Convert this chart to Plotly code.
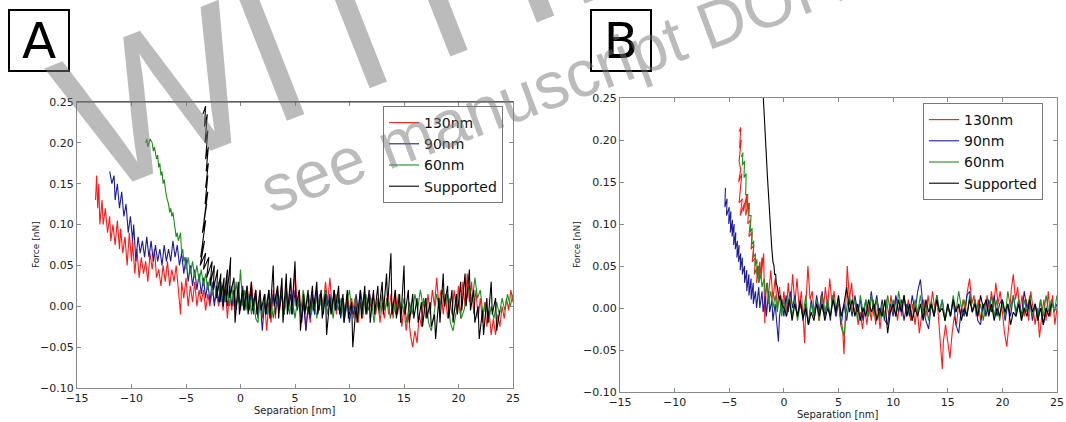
import plotly.graph_objects as go

# ---------------- Panel A data ----------------
a_red_x = [-13.3,-13.2,-13.1,-13.0,-12.9,-12.7,-12.6,-12.4,-12.2,-12.0,-11.9,-11.7,-11.5,-11.3,-11.1,-11.0,-10.8,-10.6,-10.4,-10.2,
           -10.0,-9.9,-9.7,-9.5,-9.3,-9.1,-8.9,-8.7,-8.5,-8.3,-8.1,-7.9,-7.7,-7.5,-7.3,-7.1,-6.9,-6.7,-6.5,-6.3,
           -6.1,-5.9,-5.7,-5.5,-5.4,-5.2,-5.0,-4.8,-4.6,-4.4,-4.2,-4.0,-3.8,-3.6,-3.4,-3.2,-3.0,-2.8,-2.6,-2.4,
           -2.2,-2.0,-1.8,-1.6,-1.4,-1.2,-1.0,-0.8,-0.6,-0.4,-0.2,0.0,0.2,0.4,0.6,0.8,1.0,1.2,1.4,1.6,
           1.8,2.0,2.2,2.4,2.6,2.8,3.0,3.2,3.4,3.6,3.8,4.0,4.2,4.4,4.6,4.8,5.0,5.2,5.4,5.6,
           5.8,6.0,6.2,6.4,6.6,6.8,7.0,7.2,7.4,7.6,7.8,8.0,8.2,8.4,8.6,8.8,9.0,9.2,9.4,9.6,
           9.8,10.0,10.2,10.4,10.6,10.8,11.0,11.2,11.4,11.6,11.8,12.0,12.2,12.4,12.6,12.8,13.0,13.2,13.4,13.6,
           13.8,14.0,14.2,14.4,14.6,14.8,15.0,15.2,15.4,15.6,15.8,16.0,16.2,16.4,16.6,16.8,17.0,17.2,17.4,17.6,
           17.8,18.0,18.2,18.4,18.6,18.8,19.0,19.2,19.4,19.6,19.8,20.0,20.2,20.4,20.6,20.8,21.0,21.2,21.4,21.6,
           21.8,22.0,22.2,22.4,22.6,22.8,23.0,23.2,23.4,23.6,23.8,24.0,24.2,24.4,24.6,24.8,25.0]
a_red_y = [0.13,0.16,0.12,0.15,0.10,0.13,0.10,0.12,0.09,0.11,0.08,0.10,0.075,0.105,0.07,0.095,0.065,0.085,0.05,0.09,
           0.055,0.08,0.04,0.07,0.035,0.06,0.04,0.055,0.03,0.065,0.045,0.07,0.035,0.045,0.025,0.05,0.03,0.055,0.025,0.045,
           0.03,0.05,0.02,-0.01,0.03,0.01,0.035,0.0,0.025,0.005,0.03,0.0,0.02,0.005,0.02,-0.005,0.015,0.0,0.02,0.005,
           0.015,0.0,0.02,-0.005,0.025,-0.015,0.02,-0.005,0.02,0.0,0.015,-0.005,0.02,0.0,0.025,0.005,0.03,0.0,0.02,-0.01,
           0.015,-0.015,0.01,-0.03,0.005,-0.02,0.02,-0.015,0.025,-0.005,0.02,-0.01,0.025,0.0,0.03,0.005,0.045,0.0,0.02,-0.02,
           0.01,-0.03,0.0,-0.02,0.015,-0.01,0.02,-0.005,0.015,0.0,0.03,0.005,0.035,0.0,0.02,-0.01,0.015,-0.01,0.01,-0.01,
           0.015,-0.005,0.01,-0.015,0.01,-0.02,0.005,-0.015,0.015,0.0,0.02,-0.005,0.015,-0.01,0.01,-0.02,0.005,-0.015,0.01,-0.01,
           0.015,-0.015,0.02,-0.01,0.005,-0.025,0.0,-0.03,-0.01,-0.035,-0.05,-0.03,-0.045,-0.01,-0.025,0.01,-0.015,0.015,-0.01,0.02,
           0.0,0.035,0.0,0.02,-0.01,0.015,-0.015,0.01,-0.01,0.02,-0.005,0.025,-0.015,0.03,0.0,0.04,0.005,0.03,-0.01,0.02,
           -0.015,0.01,-0.02,0.005,-0.025,-0.005,-0.035,-0.015,-0.035,-0.01,-0.025,0.0,-0.015,0.01,-0.005,0.02,0.005]

a_blue_x = [-12.0,-11.8,-11.6,-11.5,-11.3,-11.1,-10.9,-10.7,-10.5,-10.3,-10.1,-9.9,-9.8,-9.6,-9.4,-9.2,-9.0,-8.8,-8.6,-8.4,
            -8.2,-8.0,-7.8,-7.6,-7.4,-7.2,-7.0,-6.8,-6.6,-6.4,-6.2,-6.0,-5.8,-5.6,-5.4,-5.2,-5.0,-4.8,-4.6,-4.4,
            -4.2,-4.0,-3.8,-3.6,-3.4,-3.2,-3.0,-2.8,-2.6,-2.4,-2.2,-2.0,-1.8,-1.6,-1.4,-1.2,-1.0,-0.8,-0.6,-0.4,
            -0.2,0.0,0.2,0.4,0.6,0.8,1.0,1.2,1.4,1.6,1.8,2.0,2.2,2.4,2.6,2.8,3.0,3.2,3.4,3.6,
            3.8,4.0,4.2,4.4,4.6,4.8,5.0,5.2,5.4,5.6,5.8,6.0,6.2,6.4,6.6,6.8,7.0,7.2,7.4,7.6,
            7.8,8.0,8.2,8.4,8.6,8.8,9.0,9.2,9.4,9.6,9.8,10.0,10.2,10.4,10.6,10.8,11.0,11.2,11.4,11.6,
            11.8,12.0,12.2]
a_blue_y = [0.165,0.15,0.16,0.13,0.15,0.12,0.14,0.11,0.125,0.09,0.11,0.08,0.10,0.055,0.085,0.065,0.08,0.06,0.085,0.06,
            0.08,0.055,0.075,0.055,0.07,0.05,0.075,0.055,0.07,0.055,0.08,0.06,0.075,0.05,0.065,0.04,0.06,0.03,0.05,0.025,
            0.045,0.02,0.04,0.015,0.035,0.01,0.03,0.005,0.03,0.0,0.025,0.005,0.03,0.0,0.02,0.0,0.025,0.0,0.02,-0.005,
            0.02,0.0,0.025,-0.005,0.015,-0.005,0.02,-0.01,0.015,-0.015,0.01,-0.03,0.005,-0.01,0.02,-0.005,0.015,-0.01,0.02,0.0,
            0.015,-0.01,0.02,-0.005,0.015,-0.01,0.02,-0.005,0.01,-0.02,0.005,-0.03,0.0,-0.015,0.015,-0.01,0.02,-0.005,0.015,-0.01,
            0.02,0.0,0.015,-0.01,0.02,-0.005,0.01,-0.015,0.01,-0.01,0.005,-0.02,0.0,-0.01,0.015,-0.005,0.02,0.0,0.015,-0.01,
            0.02,0.0,0.01]

a_green_x = [-8.7,-8.6,-8.5,-8.3,-8.1,-8.0,-7.9,-7.7,-7.6,-7.5,-7.4,-7.3,-7.2,-7.1,-7.0,-6.9,-6.8,-6.7,-6.6,-6.5,
             -6.4,-6.3,-6.2,-6.1,-6.0,-5.9,-5.8,-5.7,-5.6,-5.5,-5.4,-5.3,-5.2,-5.1,-5.0,-4.8,-4.6,-4.4,-4.2,-4.0,
             -3.8,-3.6,-3.4,-3.2,-3.0,-2.8,-2.6,-2.4,-2.2,-2.0,-1.8,-1.6,-1.4,-1.2,-1.0,-0.8,-0.6,-0.4,-0.2,0.0,
             0.2,0.4,0.6,0.8,1.0,1.2,1.4,1.6,1.8,2.0,2.25,2.5,2.75,3.0,3.25,3.5,3.75,4.0,4.25,4.5,
             4.75,5.0,5.25,5.5,5.75,6.0,6.25,6.5,6.75,7.0,7.25,7.5,7.75,8.0,8.25,8.5,8.75,9.0,9.25,9.5,
             9.75,10.0,10.25,10.5,10.75,11.0,11.25,11.5,11.75,12.0,12.25,12.5,12.75,13.0,13.25,13.5,13.75,14.0,14.25,14.5,
             14.75,15.0,15.25,15.5,15.75,16.0,16.25,16.5,16.75,17.0,17.25,17.5,17.75,18.0,18.25,18.5,18.75,19.0,19.25,19.5,
             19.75,20.0,20.25,20.5,20.75,21.0,21.25,21.5,21.75,22.0,22.25,22.5,22.75,23.0,23.25,23.5,23.75,24.0,24.25,24.5,
             24.75,25.0]
a_green_y = [0.20,0.205,0.195,0.205,0.20,0.19,0.195,0.18,0.185,0.17,0.175,0.16,0.165,0.15,0.155,0.14,0.135,0.13,0.125,0.115,
             0.12,0.11,0.115,0.105,0.095,0.085,0.09,0.08,0.085,0.09,0.065,0.07,0.055,0.06,0.045,0.06,0.04,0.055,0.035,0.05,
             0.03,0.045,0.025,0.04,0.02,0.035,0.015,0.03,0.01,0.03,0.005,0.025,0.005,0.02,0.0,0.025,0.0,0.03,0.005,0.045,
             0.0,0.02,-0.005,0.015,-0.01,0.01,-0.015,-0.02,0.01,-0.01,0.015,-0.01,0.01,-0.015,0.015,-0.005,0.025,-0.01,0.015,-0.01,
             0.01,-0.015,0.01,-0.01,0.02,-0.005,0.015,-0.01,0.01,-0.015,0.015,-0.005,0.02,-0.01,0.01,-0.015,0.015,-0.005,0.01,-0.02,
             0.005,0.02,-0.01,0.01,-0.015,0.005,-0.01,0.015,-0.005,0.01,-0.02,0.005,-0.01,0.015,-0.005,0.01,-0.015,0.005,-0.01,0.015,
             -0.01,0.01,-0.02,0.005,-0.01,0.015,-0.005,0.02,0.0,0.01,-0.02,-0.03,-0.01,0.015,-0.005,0.02,0.0,0.015,-0.02,-0.03,
             -0.01,0.005,-0.015,-0.005,0.01,0.025,0.005,0.035,0.01,0.02,-0.01,0.005,-0.02,0.0,-0.015,0.005,-0.01,0.01,-0.005,0.015,
             0.0,0.015]

a_black_x = [-3.45,-3.2,-3.3,-3.05,-3.25,-3.0,-3.2,-2.95,-3.15,-2.95,-3.2,-3.0,-3.25,-3.0,-3.35,-3.1,-3.5,-3.2,-3.65,-3.3,
             -3.7,-3.2,-3.4,-2.9,-3.1,-2.6,-2.8,-2.4,-2.5,-2.1,-2.2,-1.8,-1.9,-1.5,-1.6,-1.2,-1.3,-0.9,-1.0,-0.6,
             -0.5,-0.2,-0.1,0.2,0.3,0.6,0.7,1.0,1.1,1.4,1.5,1.8,1.9,2.2,2.3,2.6,2.7,3.0,3.1,3.4,
             3.5,3.8,3.9,4.2,4.3,4.6,4.7,5.0,5.1,5.4,5.5,5.8,5.9,6.2,6.3,6.6,6.7,7.0,7.1,7.4,
             7.5,7.8,7.9,8.2,8.3,8.6,8.7,9.0,9.1,9.4,9.5,9.8,9.9,10.2,10.3,10.6,10.7,11.0,11.1,11.4,
             11.5,11.8,11.9,12.2,12.3,12.6,12.7,13.0,13.1,13.4,13.5,13.8,13.9,14.2,14.3,14.6,14.7,15.0,15.1,15.4,
             15.5,15.8,15.9,16.2,16.3,16.6,16.7,17.0,17.1,17.4,17.5,17.8,17.9,18.2,18.3,18.6,18.7,19.0,19.1,19.4,
             19.5,19.8,19.9,20.2,20.3,20.6,20.7,21.0,21.1,21.4,21.5,21.8,21.9,22.2,22.3,22.6,22.7,23.0,23.1,23.4,
             23.5,23.8]
a_black_y = [0.235,0.245,0.22,0.235,0.20,0.215,0.18,0.195,0.165,0.175,0.145,0.16,0.125,0.14,0.105,0.125,0.09,0.105,0.06,0.08,
             0.05,0.065,0.045,0.06,0.035,0.055,0.025,0.05,0.02,0.045,0.01,0.04,0.005,0.035,0.0,0.045,0.005,0.06,0.01,0.035,
             -0.02,0.03,-0.01,0.02,-0.005,0.025,-0.01,0.03,-0.005,0.02,-0.01,0.02,-0.005,0.015,-0.01,0.02,-0.015,0.05,0.0,0.025,
             -0.015,0.035,-0.02,0.04,-0.01,0.035,-0.01,0.055,0.0,0.02,-0.03,0.015,-0.01,0.02,-0.01,0.025,-0.005,0.03,-0.01,0.02,
             -0.015,0.015,-0.035,0.01,-0.01,0.02,-0.005,0.025,-0.01,0.015,-0.02,0.02,-0.015,0.005,-0.05,0.0,-0.02,0.02,-0.015,0.025,
             -0.01,0.015,-0.02,0.02,-0.01,0.025,-0.005,0.03,-0.01,0.04,0.0,0.065,-0.01,0.02,-0.015,0.015,-0.02,0.05,-0.01,0.02,
             -0.02,0.015,-0.015,0.01,-0.02,0.005,-0.025,0.01,-0.015,0.005,-0.025,-0.01,-0.04,0.01,-0.02,0.04,0.0,0.025,-0.015,0.02,
             -0.02,0.015,-0.01,0.03,-0.005,0.04,0.0,0.045,-0.005,0.02,-0.02,0.0,-0.04,-0.005,-0.035,0.01,-0.02,0.03,-0.01,0.01,
             -0.03,-0.005]

# ---------------- Panel B data ----------------
b_red_x = [-4.1,-3.95,-4.05,-3.9,-4.1,-3.95,-4.15,-3.85,-4.1,-3.8,-4.0,-3.6,-3.7,-3.4,-3.5,-3.2,-3.3,-3.05,-3.2,-2.9,
           -3.0,-2.75,-2.9,-2.6,-2.7,-2.4,-2.5,-2.2,-2.3,-2.0,-2.1,-1.85,-1.75,-1.6,-1.4,-1.2,-1.0,-0.8,-0.6,-0.4,
           -0.2,0.0,0.2,0.4,0.6,0.8,1.0,1.2,1.4,1.6,1.8,1.9,2.0,2.2,2.4,2.6,2.8,3.0,3.2,3.4,
           3.6,3.8,4.0,4.2,4.4,4.6,4.8,5.0,5.2,5.4,5.5,5.6,5.8,6.0,6.2,6.4,6.6,6.8,7.0,7.2,
           7.4,7.6,7.8,8.0,8.2,8.4,8.6,8.8,9.0,9.2,9.4,9.6,9.8,10.0,10.2,10.4,10.6,10.8,11.0,11.2,
           11.4,11.6,11.8,12.0,12.2,12.4,12.6,12.8,13.0,13.2,13.4,13.6,13.8,14.0,14.2,14.4,14.5,14.6,14.8,15.0,
           15.2,15.4,15.6,15.8,16.0,16.2,16.4,16.6,16.8,17.0,17.2,17.4,17.6,17.8,18.0,18.2,18.4,18.6,18.8,19.0,
           19.2,19.4,19.6,19.8,20.0,20.2,20.4,20.6,20.8,21.0,21.2,21.4,21.6,21.8,22.0,22.2,22.4,22.6,22.8,23.0,
           23.2,23.4,23.6,23.8,24.0,24.2,24.4,24.6,24.8,25.0]
b_red_y = [0.21,0.215,0.19,0.20,0.175,0.165,0.15,0.16,0.125,0.13,0.11,0.125,0.115,0.135,0.11,0.125,0.10,0.105,0.085,0.09,
           0.07,0.075,0.055,0.06,0.04,0.05,0.03,0.055,0.03,0.06,0.035,0.065,-0.018,0.03,0.015,0.045,0.01,0.035,0.0,0.025,
           -0.005,0.02,-0.01,0.03,0.0,0.04,0.005,0.035,0.0,0.02,-0.02,-0.042,0.0,0.05,0.01,0.02,-0.01,0.01,-0.015,0.015,
           -0.005,0.025,0.0,0.035,0.005,0.02,-0.01,0.01,-0.02,-0.03,-0.055,-0.02,0.05,0.01,0.03,-0.005,0.005,-0.02,-0.005,-0.025,
           0.0,-0.02,0.005,-0.015,0.01,-0.02,0.005,-0.025,0.0,-0.015,0.01,-0.01,0.015,-0.005,0.01,-0.015,0.005,-0.01,0.015,-0.005,
           0.01,-0.015,0.005,-0.02,0.0,-0.03,-0.01,0.01,-0.01,0.015,-0.005,0.02,0.0,0.015,-0.02,-0.05,-0.073,-0.04,-0.02,-0.04,
           -0.06,-0.03,-0.01,-0.02,0.005,-0.01,0.01,-0.005,0.02,0.035,0.005,0.015,-0.01,0.01,-0.015,0.005,-0.01,0.015,-0.005,0.02,
           0.0,0.03,0.005,0.02,-0.01,-0.03,-0.046,-0.02,0.02,0.04,0.01,0.025,-0.005,0.015,-0.01,0.01,-0.015,0.02,0.0,-0.02,
           0.0,-0.035,-0.01,0.01,-0.015,0.02,-0.01,0.015,-0.02,0.0]

b_blue_x = [-5.35,-5.4,-5.2,-5.25,-5.0,-5.05,-4.85,-4.9,-4.7,-4.75,-4.55,-4.6,-4.4,-4.45,-4.25,-4.3,-4.1,-4.15,-3.95,-4.0,
            -3.8,-3.8,-3.6,-3.6,-3.4,-3.4,-3.2,-3.2,-3.0,-3.0,-2.8,-2.8,-2.6,-2.5,-2.3,-2.2,-2.0,-1.9,-1.7,-1.6,
            -1.4,-1.3,-1.1,-1.0,-0.8,-0.6,-0.5,-0.4,-0.2,0.0,0.2,0.4,0.6,0.8,
            1.0,1.25,1.5,1.75,2.0,2.25,2.5,2.75,3.0,3.25,3.5,3.75,4.0,4.25,4.5,4.75,5.0,5.25,5.5,5.75,
            6.0,6.25,6.5,6.75,7.0,7.25,7.5,7.75,8.0,8.25,8.5,8.75,9.0,9.25,9.5,9.75,10.0,10.25,10.5,10.75,
            11.0,11.25,11.5,11.75,12.0,12.25,12.5,12.75,13.0,13.25,13.5,13.75,14.0,14.25,14.5,14.75,15.0,15.25,15.5,15.75,
            16.0,16.25,16.5,16.75,17.0,17.25,17.5,17.75,18.0,18.25,18.5,18.75,19.0,19.25,19.5,19.75,20.0,20.25,20.5,20.75,
            21.0,21.25,21.5,21.75,22.0,22.25,22.5,22.75,23.0,23.25,23.5,23.75,24.0,24.25,24.5,24.75,25.0]
b_blue_y = [0.143,0.12,0.13,0.11,0.12,0.10,0.115,0.09,0.105,0.085,0.10,0.075,0.09,0.07,0.08,0.06,0.075,0.055,0.065,0.045,
            0.06,0.04,0.05,0.03,0.045,0.02,0.04,0.015,0.035,0.01,0.03,0.005,0.02,0.0,0.025,0.0,0.02,-0.005,0.015,-0.01,
            0.02,-0.005,0.01,-0.015,0.005,-0.025,-0.04,-0.01,0.01,-0.01,0.015,-0.005,0.02,0.0,
            0.015,-0.01,0.01,-0.015,0.005,-0.02,0.01,-0.01,0.015,-0.005,0.02,-0.01,0.01,-0.015,0.015,-0.01,0.01,-0.02,0.005,-0.015,
            0.01,-0.01,0.015,-0.005,0.01,-0.015,0.01,-0.01,0.02,-0.005,0.015,-0.01,0.01,-0.015,-0.02,0.005,-0.01,0.015,-0.005,0.01,
            -0.015,0.005,-0.01,0.015,-0.005,0.02,0.034,0.0,-0.015,-0.025,0.005,-0.01,0.015,-0.005,0.01,-0.015,0.005,-0.01,0.01,-0.02,
            -0.03,0.0,-0.01,0.015,0.02,-0.005,0.01,-0.015,-0.02,0.005,-0.01,0.01,-0.005,0.015,-0.01,0.005,0.01,-0.015,0.005,-0.01,
            0.015,-0.005,0.01,-0.01,0.02,0.0,0.01,-0.015,0.005,-0.01,0.01,-0.02,0.0,-0.01,0.01,-0.005,0.005]

b_green_x = [-3.9,-3.75,-3.8,-3.6,-3.65,-3.45,-3.5,-3.3,-3.35,-3.15,-3.2,-3.0,-3.1,-2.9,-2.95,-2.75,-2.8,-2.6,-2.65,-2.45,
             -2.5,-2.3,-2.3,-2.1,-2.0,-1.8,-1.7,-1.5,-1.4,-1.2,-1.0,-0.8,-0.6,-0.4,-0.2,0.0,
             0.25,0.5,0.75,1.0,1.25,1.5,1.75,2.0,2.25,2.5,2.75,3.0,3.25,3.5,3.75,4.0,4.25,4.5,4.75,5.0,
             5.25,5.5,5.75,6.0,6.25,6.5,6.75,7.0,7.25,7.5,7.75,8.0,8.25,8.5,8.75,9.0,9.25,9.5,9.75,10.0,
             10.25,10.5,10.75,11.0,11.25,11.5,11.75,12.0,12.25,12.5,12.75,13.0,13.25,13.5,13.75,14.0,14.25,14.5,14.75,15.0,
             15.25,15.5,15.75,16.0,16.25,16.5,16.75,17.0,17.25,17.5,17.75,18.0,18.25,18.5,18.75,19.0,19.25,19.5,19.75,20.0,
             20.25,20.5,20.75,21.0,21.25,21.5,21.75,22.0,22.25,22.5,22.75,23.0,23.25,23.5,23.75,24.0,24.25,24.5,24.75,25.0]
b_green_y = [0.18,0.185,0.17,0.175,0.155,0.16,0.135,0.135,0.12,0.125,0.11,0.11,0.09,0.095,0.075,0.08,0.06,0.065,0.05,0.058,
             0.04,0.05,0.03,0.04,0.025,0.035,0.015,0.03,0.005,0.02,0.0,0.015,-0.005,0.015,-0.01,0.01,
             -0.005,0.015,-0.01,0.01,-0.015,0.005,-0.01,0.015,-0.02,0.005,-0.01,0.01,-0.015,0.015,-0.005,0.01,-0.01,0.015,-0.005,0.01,
             -0.015,-0.034,0.0,0.015,-0.005,0.01,-0.015,0.015,-0.005,0.01,-0.01,0.015,-0.01,0.01,-0.015,0.005,-0.01,0.015,-0.005,0.01,
             -0.01,0.02,0.0,0.015,-0.01,0.005,-0.015,0.01,-0.005,0.015,-0.01,0.005,-0.015,0.01,-0.01,0.015,-0.005,0.01,-0.015,0.0,
             -0.01,0.015,-0.005,0.02,0.0,0.01,-0.01,0.015,-0.005,0.01,-0.01,0.005,-0.015,0.01,-0.005,0.015,-0.01,0.01,-0.015,0.005,
             -0.01,0.02,0.0,0.015,-0.01,0.01,-0.015,0.01,-0.005,0.015,-0.01,0.005,-0.015,0.01,-0.01,0.015,-0.005,0.01,-0.005,0.015]

b_black_x = [-1.88,-1.8,-1.7,-1.6,-1.5,-1.4,-1.3,-1.2,-1.1,-1.0,-0.9,-0.85,-0.75,-0.7,-0.6,-0.5,-0.4,-0.3,-0.2,
             0.0,0.25,0.5,0.75,1.0,1.25,1.5,1.75,2.0,2.25,2.5,2.75,3.0,3.25,3.5,3.75,4.0,4.25,4.5,4.75,
             5.0,5.25,5.5,5.75,6.0,6.25,6.5,6.75,7.0,7.25,7.5,7.75,8.0,8.25,8.5,8.75,9.0,9.25,9.5,9.75,
             10.0,10.25,10.5,10.75,11.0,11.25,11.5,11.75,12.0,12.25,12.5,12.75,13.0,13.25,13.5,13.75,14.0,14.25,14.5,14.75,
             15.0,15.25,15.5,15.75,16.0,16.25,16.5,16.75,17.0,17.25,17.5,17.75,18.0,18.25,18.5,18.75,19.0,19.25,19.5,19.75,
             20.0,20.25,20.5,20.75,21.0,21.25,21.5,21.75,22.0,22.25,22.5,22.75,23.0,23.25,23.5,23.75,24.0,24.25,24.5]
b_black_y = [0.25,0.225,0.20,0.18,0.155,0.13,0.105,0.085,0.07,0.055,0.05,0.04,0.04,0.03,0.025,0.015,0.01,0.015,0.005,
             0.0,-0.01,0.01,-0.015,0.005,-0.01,0.008,-0.012,0.0,-0.02,-0.005,-0.015,0.005,-0.01,0.005,-0.015,0.0,-0.01,0.01,-0.005,
             0.015,-0.01,0.005,0.025,-0.005,0.01,-0.01,0.005,-0.015,0.0,-0.01,0.01,-0.005,0.005,-0.015,0.0,-0.01,0.01,-0.03,-0.005,
             0.005,-0.01,0.01,-0.005,0.015,-0.01,0.005,-0.015,0.0,-0.01,0.005,-0.015,0.01,-0.005,0.005,-0.01,0.01,-0.005,0.0,-0.015,
             0.005,-0.01,0.01,-0.005,0.005,-0.015,0.0,-0.01,0.01,-0.005,0.005,-0.01,0.015,0.0,0.01,-0.01,0.005,-0.015,0.0,-0.01,
             0.01,-0.005,0.005,-0.02,-0.005,-0.01,0.005,-0.015,0.0,-0.01,0.01,-0.005,0.005,-0.015,0.0,-0.02,0.0,-0.01,0.005]

series_names = ["130nm", "90nm", "60nm", "Supported"]
series_colors = ["#ff1a1a", "#1c1c9c", "#1f8f1f", "#000000"]
x_ticks = [-15, -10, -5, 0, 5, 10, 15, 20, 25]
y_ticks = [-0.10, -0.05, 0.00, 0.05, 0.10, 0.15, 0.20, 0.25]

W, H = 1066, 422
FONT = "DejaVu Sans"

fig = go.Figure()
panelA = [(a_red_x, a_red_y), (a_blue_x, a_blue_y), (a_green_x, a_green_y), (a_black_x, a_black_y)]
panelB = [(b_red_x, b_red_y), (b_blue_x, b_blue_y), (b_green_x, b_green_y), (b_black_x, b_black_y)]
for i, (xs, ys) in enumerate(panelA):
    fig.add_trace(go.Scatter(x=xs, y=ys, mode="lines", name=series_names[i],
                             line=dict(color=series_colors[i], width=1.1), xaxis="x", yaxis="y", legend="legend"))
for i, (xs, ys) in enumerate(panelB):
    fig.add_trace(go.Scatter(x=xs, y=ys, mode="lines", name=series_names[i],
                             line=dict(color=series_colors[i], width=1.1), xaxis="x2", yaxis="y2", legend="legend2"))

def px_x(p): return p / W
def px_y(p): return 1 - p / H

axis_common = dict(showgrid=False, zeroline=False, showline=True, linecolor="#8a8a8a", linewidth=1,
                   mirror="allticks", ticks="inside", ticklen=4, tickcolor="#8a8a8a",
                   tickfont=dict(family=FONT, size=11, color="#222"), automargin=False)

fig.update_layout(
    width=W, height=H, margin=dict(l=0, r=0, t=0, b=0),
    paper_bgcolor="white", plot_bgcolor="white",
    xaxis=dict(domain=[px_x(77), px_x(513)], range=[-15, 25], tickvals=x_ticks, anchor="y", **axis_common),
    yaxis=dict(domain=[px_y(388), px_y(102)], range=[-0.10, 0.25], tickvals=y_ticks, tickformat=".2f", anchor="x",
               **axis_common),
    xaxis2=dict(domain=[px_x(620), px_x(1057)], range=[-15, 25], tickvals=x_ticks, anchor="y2", **axis_common),
    yaxis2=dict(domain=[px_y(392), px_y(98)], range=[-0.10, 0.25], tickvals=y_ticks, tickformat=".2f", anchor="x2",
                **axis_common),
    legend=dict(x=px_x(383), y=px_y(106), xanchor="left", yanchor="top", bgcolor="white",
                bordercolor="#777", borderwidth=1, font=dict(family=FONT, size=14, color="#111"),
                itemwidth=30, tracegroupgap=0),
    legend2=dict(x=px_x(923), y=px_y(103), xanchor="left", yanchor="top", bgcolor="white",
                 bordercolor="#777", borderwidth=1, font=dict(family=FONT, size=14, color="#111"),
                 itemwidth=30, tracegroupgap=0),
    showlegend=True,
)

# axis titles
for cx, cy in ((295, 410), (838, 414)):
    fig.add_annotation(text="Separation [nm]", xref="paper", yref="paper", x=px_x(cx), y=px_y(cy),
                       xanchor="center", yanchor="middle", showarrow=False,
                       font=dict(family=FONT, size=10, color="#222"))
for cx, cy in ((36, 245), (577, 245)):
    fig.add_annotation(text="Force [nN]", xref="paper", yref="paper", x=px_x(cx), y=px_y(cy),
                       xanchor="center", yanchor="middle", showarrow=False, textangle=-90,
                       font=dict(family=FONT, size=9, color="#222"))

# dark top border of panel A
fig.add_shape(type="line", xref="paper", yref="paper", x0=px_x(77), x1=px_x(513), y0=px_y(102), y1=px_y(102),
              line=dict(color="#333", width=1))

# panel letters
for letter, cx in (("A", 39), ("B", 621)):
    fig.add_annotation(text=letter, xref="paper", yref="paper", x=px_x(cx), y=px_y(40.5),
                       xanchor="center", yanchor="middle", showarrow=False, width=58, height=59,
                       bordercolor="#000", borderwidth=2, borderpad=0, bgcolor="white",
                       font=dict(family=FONT, size=50, color="#000"))

# watermark
fig.add_annotation(text="WITHDRAWN", xref="paper", yref="paper", x=px_x(654), y=px_y(-98),
                   xanchor="center", yanchor="middle", showarrow=False, textangle=-21.5,
                   font=dict(family="Liberation Sans", size=200, color="rgba(120,120,120,0.5)"))
fig.add_annotation(text="see manuscript DOI for details", xref="paper", yref="paper", x=px_x(679), y=px_y(37),
                   xanchor="center", yanchor="middle", showarrow=False, textangle=-20.5,
                   font=dict(family="Liberation Sans", size=66, color="rgba(120,120,120,0.5)"))

fig.write_html("out.html")
